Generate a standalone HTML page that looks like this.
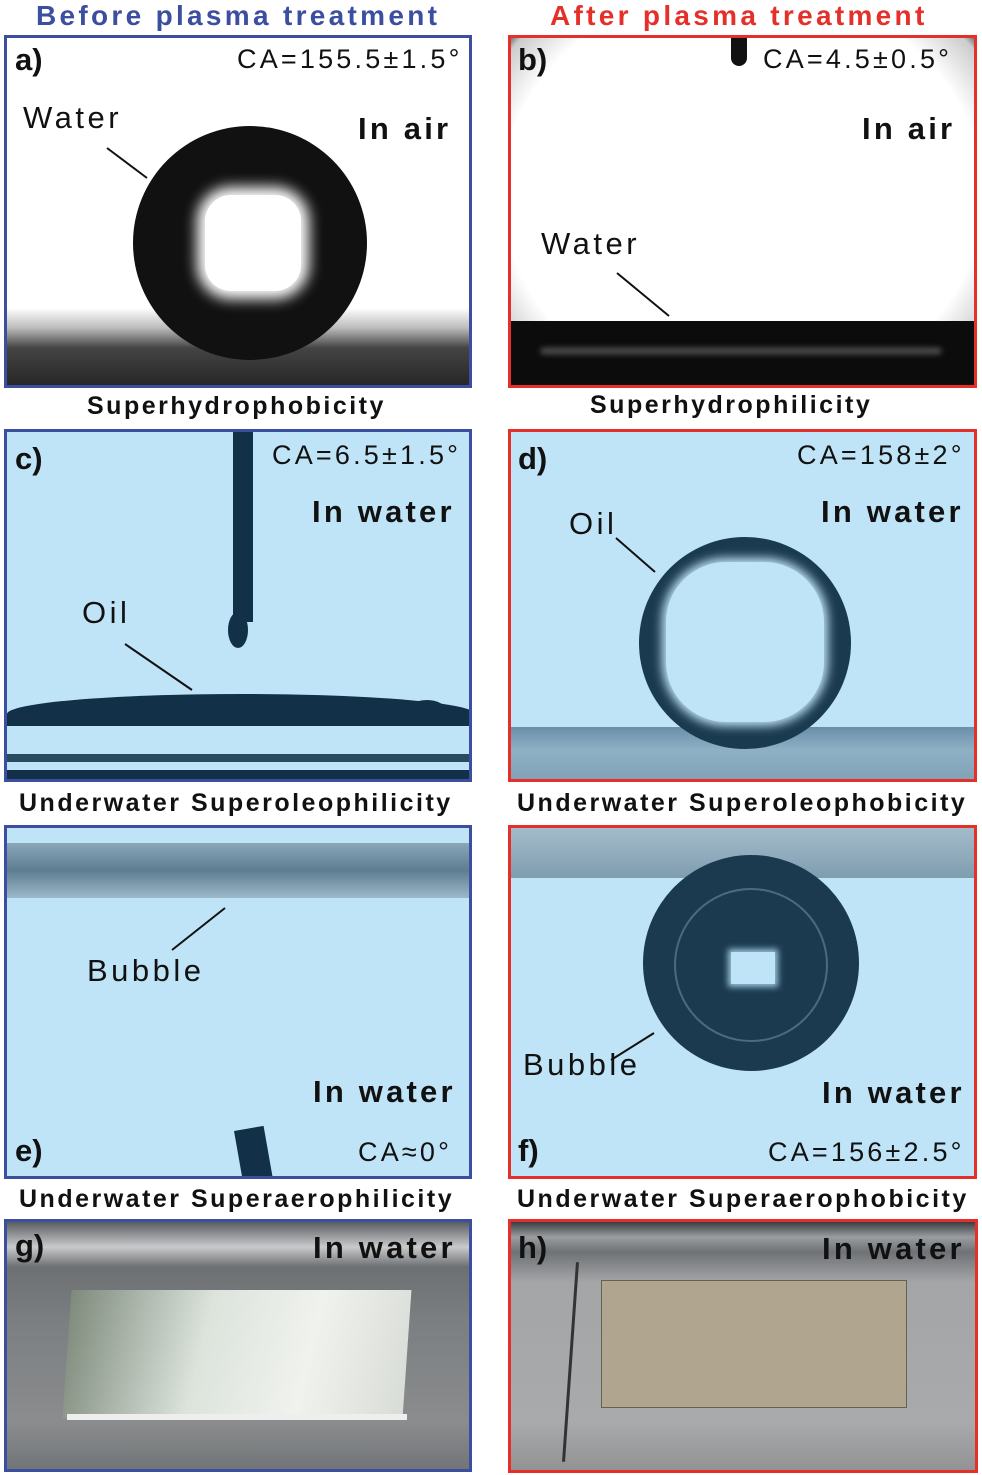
<!DOCTYPE html>
<html><head><meta charset="utf-8">
<style>
*{margin:0;padding:0;box-sizing:border-box}
body{width:982px;height:1475px;background:#fff;position:relative;overflow:hidden;font-family:"Liberation Sans","DejaVu Sans",sans-serif}
.abs{position:absolute}
.p{position:absolute;overflow:hidden}
.pb{border:3px solid #3c4ea0}
.pr{border:3px solid #e5302a}
.t{position:absolute;white-space:nowrap}
.lab{font-weight:bold;font-size:31px;color:#111}
.cap{font-weight:bold;font-size:25px;color:#111;letter-spacing:2.5px}
.ca{font-size:27px;color:#111;letter-spacing:3.2px}
.env{font-weight:bold;font-size:31px;color:#111;letter-spacing:3.2px}
.nm{font-size:31px;color:#111;letter-spacing:3.5px}
.blue{background:#c0e4f7}
svg{position:absolute;left:0;top:0}
</style></head><body>

<div class="t" style="left:36px;top:0;font-size:28px;font-weight:bold;color:#3c4ea0;letter-spacing:3.3px">Before plasma treatment</div>
<div class="t" style="left:550px;top:0;font-size:28px;font-weight:bold;color:#e5302a;letter-spacing:3.3px">After plasma treatment</div>

<!-- a -->
<div class="p pb" style="left:4px;top:35px;width:468px;height:353px;background:linear-gradient(#fff 0,#fff 270px,#bbb 290px,#444 310px,#222 353px)">
  <div class="abs" style="left:126px;top:88px;width:234px;height:234px;border-radius:50%;background:#111"></div>
  <div class="abs" style="left:198px;top:157px;width:96px;height:96px;border-radius:26px;background:#fff;box-shadow:0 0 14px 8px #fff"></div>
  <svg width="468" height="353"><line x1="100" y1="110" x2="140" y2="140" stroke="#111" stroke-width="2"/></svg>
</div>
<div class="t lab" style="left:15px;top:42px">a)</div>
<div class="t ca" style="left:237px;top:44px">CA=155.5±1.5°</div>
<div class="t nm" style="left:23px;top:100px">Water</div>
<div class="t env" style="left:358px;top:111px">In air</div>
<div class="t cap" style="left:87px;top:392px">Superhydrophobicity</div>

<!-- b -->
<div class="p pr" style="left:508px;top:35px;width:469px;height:353px;background:radial-gradient(ellipse 300px 260px at 50% 45%,#fff 80%,#ccc 95%,#333 100%)">
  <div class="abs" style="left:0;top:283px;width:469px;height:70px;background:#0c0c0c"></div>
  <div class="abs" style="left:30px;top:310px;width:400px;height:6px;background:#555;filter:blur(3px)"></div>
  <div class="abs" style="left:220px;top:0;width:16px;height:28px;border-radius:0 0 8px 8px;background:#111"></div>
  <svg width="469" height="353"><line x1="106" y1="235" x2="158" y2="278" stroke="#111" stroke-width="2"/></svg>
</div>
<div class="t lab" style="left:518px;top:42px">b)</div>
<div class="t ca" style="left:763px;top:44px">CA=4.5±0.5°</div>
<div class="t nm" style="left:541px;top:226px">Water</div>
<div class="t env" style="left:862px;top:111px">In air</div>
<div class="t cap" style="left:590px;top:391px">Superhydrophilicity</div>

<!-- c -->
<div class="p pb blue" style="left:4px;top:429px;width:468px;height:353px">
  <div class="abs" style="left:226px;top:0;width:20px;height:190px;background:#123048"></div>
  <div class="abs" style="left:221px;top:180px;width:20px;height:36px;border-radius:50%;background:#123048"></div>
  <div class="abs" style="left:0;top:262px;width:468px;height:32px;background:#123048;border-radius:50% 50% 0 0/20px 20px 0 0"></div>
  <div class="abs" style="left:400px;top:268px;width:40px;height:24px;border-radius:50%;background:#123048"></div>
  <div class="abs" style="left:0;top:322px;width:468px;height:8px;background:#2a4a60"></div>
  <div class="abs" style="left:0;top:338px;width:468px;height:15px;background:#123048"></div>
  <svg width="468" height="353"><line x1="118" y1="212" x2="185" y2="258" stroke="#111" stroke-width="2"/></svg>
</div>
<div class="t lab" style="left:15px;top:441px">c)</div>
<div class="t ca" style="left:272px;top:440px">CA=6.5±1.5°</div>
<div class="t env" style="left:312px;top:494px">In water</div>
<div class="t nm" style="left:82px;top:595px">Oil</div>
<div class="t cap" style="left:19px;top:789px">Underwater Superoleophilicity</div>

<!-- d -->
<div class="p pr blue" style="left:508px;top:429px;width:469px;height:353px">
  <div class="abs" style="left:0;top:295px;width:469px;height:58px;background:linear-gradient(#6a8fa8,#8fb1c6 40%,#7e9fb4)"></div>
  <div class="abs" style="left:128px;top:105px;width:212px;height:212px;border-radius:50%;background:#1a3a50"></div>
  <div class="abs" style="left:155px;top:130px;width:158px;height:160px;border-radius:60px;background:#c0e4f7;box-shadow:0 0 10px 4px #c0e4f7"></div>
  <svg width="469" height="353"><line x1="105" y1="106" x2="144" y2="140" stroke="#111" stroke-width="2"/></svg>
</div>
<div class="t lab" style="left:518px;top:441px">d)</div>
<div class="t ca" style="left:797px;top:440px">CA=158±2°</div>
<div class="t env" style="left:821px;top:494px">In water</div>
<div class="t nm" style="left:569px;top:506px">Oil</div>
<div class="t cap" style="left:517px;top:789px">Underwater Superoleophobicity</div>

<!-- e -->
<div class="p pb blue" style="left:4px;top:825px;width:468px;height:354px">
  <div class="abs" style="left:0;top:15px;width:468px;height:55px;background:linear-gradient(#8aa7b9,#5e7d92 50%,#9cb9ca)"></div>
  <div class="abs" style="left:232px;top:300px;width:30px;height:60px;background:#123048;transform:rotate(-10deg)"></div>
  <svg width="468" height="354"><line x1="218" y1="80" x2="165" y2="122" stroke="#111" stroke-width="2"/></svg>
</div>
<div class="t nm" style="left:87px;top:953px">Bubble</div>
<div class="t env" style="left:313px;top:1074px">In water</div>
<div class="t lab" style="left:15px;top:1133px">e)</div>
<div class="t ca" style="left:358px;top:1137px">CA≈0°</div>
<div class="t cap" style="left:19px;top:1185px">Underwater Superaerophilicity</div>

<!-- f -->
<div class="p pr blue" style="left:508px;top:825px;width:469px;height:354px">
  <div class="abs" style="left:0;top:0;width:469px;height:50px;background:linear-gradient(#a3bccb,#7f9db0)"></div>
  <div class="abs" style="left:132px;top:27px;width:216px;height:216px;border-radius:50%;background:#1b3a4f"></div>
  <div class="abs" style="left:163px;top:60px;width:154px;height:154px;border-radius:50%;border:2px solid #4a6a80"></div>
  <div class="abs" style="left:220px;top:124px;width:44px;height:32px;background:#c0e4f7;box-shadow:0 0 6px 3px #9cc4dc"></div>
  <svg width="469" height="354"><line x1="143" y1="205" x2="100" y2="232" stroke="#111" stroke-width="2"/></svg>
</div>
<div class="t nm" style="left:523px;top:1047px">Bubble</div>
<div class="t env" style="left:822px;top:1075px">In water</div>
<div class="t lab" style="left:518px;top:1133px">f)</div>
<div class="t ca" style="left:768px;top:1137px">CA=156±2.5°</div>
<div class="t cap" style="left:517px;top:1185px">Underwater Superaerophobicity</div>

<!-- g -->
<div class="p pb" style="left:4px;top:1219px;width:468px;height:253px;background:linear-gradient(#5a5d60 0,#c8cacc 25px,#6d7072 45px,#7c7f81 100px,#8a8c8e 200px,#6f7274 253px)">
  <div class="abs" style="left:60px;top:68px;width:340px;height:128px;background:linear-gradient(100deg,#7e8a7c,#dce4dc 40%,#f0f2ee 70%,#d8dcd6);transform:skewX(-4deg)"></div>
  <div class="abs" style="left:60px;top:192px;width:340px;height:6px;background:#eee"></div>
</div>
<div class="t lab" style="left:15px;top:1228px;color:#111">g)</div>
<div class="t env" style="left:313px;top:1230px">In water</div>

<!-- h -->
<div class="p pr" style="left:508px;top:1219px;width:470px;height:254px;background:linear-gradient(#3a3d42 0,#9a9da0 15px,#6f7275 30px,#a3a5a7 60px,#a8aaab 200px,#8e9091 254px)">
  <div class="abs" style="left:90px;top:58px;width:306px;height:128px;background:#b0a58e;border:1px solid #6a604e"></div>
  <div class="abs" style="left:58px;top:40px;width:3px;height:200px;background:#333;transform:rotate(4deg)"></div>
</div>
<div class="t lab" style="left:518px;top:1230px">h)</div>
<div class="t env" style="left:822px;top:1231px">In water</div>

</body></html>
